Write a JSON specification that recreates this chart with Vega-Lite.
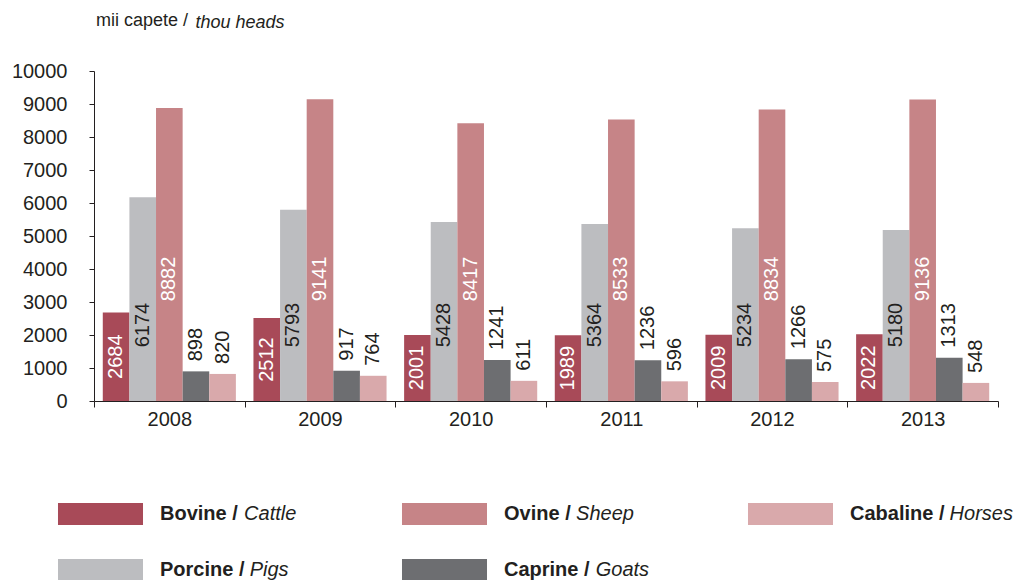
{
  "$schema": "https://vega.github.io/schema/vega-lite/v6.json",
  "width": 904,
  "height": 330,
  "autosize": "none",
  "padding": {"left": 94, "top": 71, "right": 23, "bottom": 179},
  "background": "white",
  "title": {"text": "mii capete /", "anchor": "start", "frame": "group", "fontSize": 18, "fontWeight": "normal", "color": "#231f20", "offset": -17, "dx": 2},
  "data": {"values": [
    {"year": "2008", "series": "Bovine / Cattle", "value": 2684},
    {"year": "2008", "series": "Porcine / Pigs", "value": 6174},
    {"year": "2008", "series": "Ovine / Sheep", "value": 8882},
    {"year": "2008", "series": "Caprine / Goats", "value": 898},
    {"year": "2008", "series": "Cabaline / Horses", "value": 820},
    {"year": "2009", "series": "Bovine / Cattle", "value": 2512},
    {"year": "2009", "series": "Porcine / Pigs", "value": 5793},
    {"year": "2009", "series": "Ovine / Sheep", "value": 9141},
    {"year": "2009", "series": "Caprine / Goats", "value": 917},
    {"year": "2009", "series": "Cabaline / Horses", "value": 764},
    {"year": "2010", "series": "Bovine / Cattle", "value": 2001},
    {"year": "2010", "series": "Porcine / Pigs", "value": 5428},
    {"year": "2010", "series": "Ovine / Sheep", "value": 8417},
    {"year": "2010", "series": "Caprine / Goats", "value": 1241},
    {"year": "2010", "series": "Cabaline / Horses", "value": 611},
    {"year": "2011", "series": "Bovine / Cattle", "value": 1989},
    {"year": "2011", "series": "Porcine / Pigs", "value": 5364},
    {"year": "2011", "series": "Ovine / Sheep", "value": 8533},
    {"year": "2011", "series": "Caprine / Goats", "value": 1236},
    {"year": "2011", "series": "Cabaline / Horses", "value": 596},
    {"year": "2012", "series": "Bovine / Cattle", "value": 2009},
    {"year": "2012", "series": "Porcine / Pigs", "value": 5234},
    {"year": "2012", "series": "Ovine / Sheep", "value": 8834},
    {"year": "2012", "series": "Caprine / Goats", "value": 1266},
    {"year": "2012", "series": "Cabaline / Horses", "value": 575},
    {"year": "2013", "series": "Bovine / Cattle", "value": 2022},
    {"year": "2013", "series": "Porcine / Pigs", "value": 5180},
    {"year": "2013", "series": "Ovine / Sheep", "value": 9136},
    {"year": "2013", "series": "Caprine / Goats", "value": 1313},
    {"year": "2013", "series": "Cabaline / Horses", "value": 548}
  ]},
  "encoding": {
    "x": {"field": "year", "type": "nominal", "title": null,
      "scale": {"paddingInner": 0, "paddingOuter": 0},
      "axis": {"labelAngle": 0, "tickBand": "extent", "tickSize": 6, "labelPadding": 2, "labelFontSize": 20}},
    "xOffset": {"field": "series", "type": "nominal",
      "sort": ["Bovine / Cattle", "Porcine / Pigs", "Ovine / Sheep", "Caprine / Goats", "Cabaline / Horses"],
      "scale": {"paddingInner": 0, "paddingOuter": 0.33}}
  },
  "layer": [
    {
      "mark": {"type": "bar"},
      "encoding": {
        "y": {"field": "value", "type": "quantitative", "title": "thou heads",
          "scale": {"domain": [0, 10000], "nice": false},
          "axis": {"values": [0, 1000, 2000, 3000, 4000, 5000, 6000, 7000, 8000, 9000, 10000], "format": "d",
            "tickSize": 5, "labelPadding": 22, "labelFontSize": 20,
            "titleAngle": 0, "titleAlign": "left", "titleBaseline": "alphabetic",
            "titleX": 101, "titleY": -44, "titleFontStyle": "italic", "titleFontWeight": "normal",
            "titleFontSize": 18, "titleColor": "#231f20"}},
        "color": {"field": "series", "type": "nominal",
          "scale": {"domain": ["Bovine / Cattle", "Ovine / Sheep", "Cabaline / Horses", "Porcine / Pigs", "Caprine / Goats"],
            "range": ["#a84a58", "#c68487", "#d9a9ab", "#bcbdc0", "#6d6e71"]},
          "legend": {"orient": "none", "legendX": -4.5, "legendY": 432, "columns": 3, "title": null,
            "symbolType": "M-3.864,-1H3.864V1H-3.864Z", "symbolSize": 484, "symbolStrokeWidth": 0, "symbolOpacity": 1,
            "labelFontSize": 20, "labelFontWeight": "bold", "labelOffset": 48.5, "labelColor": "#231f20", "labelLimit": 400,
            "labelExpr": "split(datum.label, ' / ')[0] + ' /'",
            "columnPadding": 157, "rowPadding": 34, "gridAlign": "each", "padding": 0,
            "values": ["Bovine / Cattle", "Porcine / Pigs", "Ovine / Sheep", "Caprine / Goats", "Cabaline / Horses"]}},
        "opacity": {"field": "series", "type": "nominal",
          "scale": {"domain": ["Bovine / Cattle", "Porcine / Pigs", "Ovine / Sheep", "Caprine / Goats", "Cabaline / Horses"], "range": [1, 1, 1, 1, 1]},
          "legend": {"orient": "none", "legendX": 130.1, "legendY": 433, "title": null, "values": ["Bovine / Cattle"],
            "symbolSize": 0, "symbolOpacity": 0, "symbolStrokeWidth": 0, "labelOffset": 0, "padding": 0,
            "labelFontSize": 20, "labelFontStyle": "italic", "labelColor": "#231f20", "labelLimit": 400,
            "labelExpr": "split(datum.label, ' / ')[1]"}},
        "strokeWidth": {"field": "series", "type": "nominal",
          "scale": {"domain": ["Caprine / Goats", "Bovine / Cattle", "Porcine / Pigs", "Ovine / Sheep", "Cabaline / Horses"], "range": [0, 0, 0, 0, 0]},
          "legend": {"orient": "none", "legendX": 481.7, "legendY": 489, "title": null, "values": ["Caprine / Goats"],
            "symbolSize": 0, "symbolOpacity": 0, "symbolStrokeWidth": 0, "labelOffset": 0, "padding": 0,
            "labelFontSize": 20, "labelFontStyle": "italic", "labelColor": "#231f20", "labelLimit": 400,
            "labelExpr": "split(datum.label, ' / ')[1]"}},
        "strokeDash": {"field": "series", "type": "nominal",
          "scale": {"domain": ["Cabaline / Horses", "Bovine / Cattle", "Porcine / Pigs", "Ovine / Sheep", "Caprine / Goats"], "range": [[1, 0], [1, 0], [1, 0], [1, 0], [1, 0]]},
          "legend": {"orient": "none", "legendX": 835.6, "legendY": 433, "title": null, "values": ["Cabaline / Horses"],
            "symbolSize": 0, "symbolOpacity": 0, "symbolStrokeWidth": 0, "labelOffset": 0, "padding": 0,
            "labelFontSize": 20, "labelFontStyle": "italic", "labelColor": "#231f20", "labelLimit": 400,
            "labelExpr": "split(datum.label, ' / ')[1]"}}
      }
    },
    {
      "transform": [{"filter": "datum.series == 'Bovine / Cattle'"}],
      "mark": {"type": "text", "angle": 270, "align": "center", "baseline": "middle", "fontSize": 20, "color": "white"},
      "encoding": {
        "y": {"field": "value", "type": "quantitative", "scale": {"domain": [0, 20000], "nice": false}, "axis": null},
        "text": {"field": "value", "type": "quantitative", "format": "d"}
      }
    },
    {
      "transform": [{"filter": "datum.series == 'Porcine / Pigs'"}],
      "mark": {"type": "text", "angle": 270, "align": "center", "baseline": "middle", "color": "#231f20"},
      "encoding": {
        "y": {"datum": 2300, "type": "quantitative", "scale": {"domain": [0, 10000], "nice": false}, "axis": null},
        "text": {"field": "value", "type": "quantitative", "format": "d"},
        "size": {"field": "series", "type": "nominal",
          "scale": {"domain": ["Porcine / Pigs"], "range": [20, 20]},
          "legend": {"orient": "none", "legendX": 135.7, "legendY": 489, "title": null, "values": ["Porcine / Pigs"],
            "symbolOpacity": 0, "symbolStrokeWidth": 0, "labelOffset": 0, "padding": 0,
            "labelFontSize": 20, "labelFontStyle": "italic", "labelColor": "#231f20", "labelLimit": 400,
            "labelExpr": "split(datum.label, ' / ')[1]"}}
      }
    },
    {
      "transform": [{"filter": "datum.series == 'Ovine / Sheep'"}],
      "mark": {"type": "text", "angle": 270, "align": "center", "baseline": "middle", "color": "white"},
      "encoding": {
        "y": {"datum": 3700, "type": "quantitative", "scale": {"domain": [0, 10000], "nice": false}, "axis": null},
        "text": {"field": "value", "type": "quantitative", "format": "d"},
        "size": {"field": "series", "type": "nominal",
          "scale": {"domain": ["Ovine / Sheep"], "range": [20, 20]},
          "legend": {"orient": "none", "legendX": 462.1, "legendY": 433, "title": null, "values": ["Ovine / Sheep"],
            "symbolOpacity": 0, "symbolStrokeWidth": 0, "labelOffset": 0, "padding": 0,
            "labelFontSize": 20, "labelFontStyle": "italic", "labelColor": "#231f20", "labelLimit": 400,
            "labelExpr": "split(datum.label, ' / ')[1]"}}
      }
    },
    {
      "transform": [{"filter": "datum.series == 'Caprine / Goats' || datum.series == 'Cabaline / Horses'"}],
      "mark": {"type": "text", "angle": 270, "align": "left", "baseline": "middle", "fontSize": 20, "color": "#231f20", "dx": 10},
      "encoding": {
        "y": {"field": "value", "type": "quantitative", "scale": {"domain": [0, 10000], "nice": false}, "axis": null},
        "text": {"field": "value", "type": "quantitative", "format": "d"}
      }
    }
  ],
  "resolve": {"scale": {"y": "independent", "size": "independent"}, "legend": {"size": "independent"}},
  "config": {
    "font": "Liberation Sans",
    "view": {"stroke": null},
    "axis": {"grid": false, "labelColor": "#231f20", "domainColor": "#231f20", "tickColor": "#231f20", "labelFont": "Liberation Sans"},
    "legend": {"labelFont": "Liberation Sans"}
  }
}
